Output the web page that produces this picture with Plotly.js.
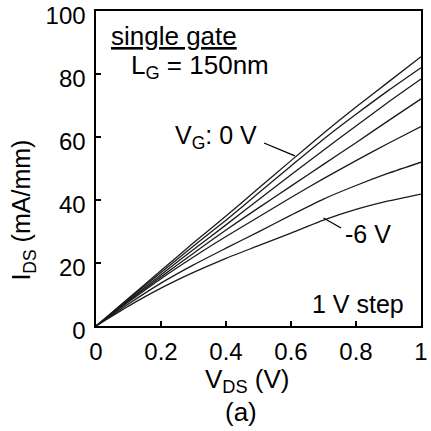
<!DOCTYPE html>
<html>
<head>
<meta charset="utf-8">
<script src="https://cdn.plot.ly/plotly-3.0.1.min.js"></script>
<style>html,body{margin:0;padding:0;background:#fff;}#chart{width:431px;height:431px;}</style>
</head>
<body>
<div id="chart"></div>
<script>
// Drain voltage samples (V)
const vds = [0, 0.1, 0.2, 0.3, 0.4, 0.5, 0.6, 0.7, 0.8, 0.9, 1.0];
// Gate voltages (V), 1 V step
const vgLabels = ["0 V", "-1 V", "-2 V", "-3 V", "-4 V", "-5 V", "-6 V"];
// Drain current IDS (mA/mm), one array per gate voltage
const ids_0  = [0, 8.8, 17.6, 26.4, 34.9, 43.7, 52.5, 61.2, 69.5, 77.5, 85.5];
const ids_m1 = [0, 8.5, 17.0, 25.4, 33.6, 42.2, 50.8, 59.3, 67.2, 74.8, 82.0];
const ids_m2 = [0, 8.2, 16.3, 24.3, 32.1, 40.1, 48.0, 55.8, 63.5, 71.1, 78.4];
const ids_m3 = [0, 7.9, 15.6, 23.1, 30.5, 37.5, 44.4, 51.3, 58.2, 65.2, 72.1];
const ids_m4 = [0, 7.6, 15.0, 21.9, 28.4, 34.6, 40.8, 46.8, 52.5, 58.0, 63.3];
const ids_m5 = [0, 7.0, 13.6, 19.4, 24.7, 29.9, 35.2, 40.3, 44.6, 48.5, 52.0];
const ids_m6 = [0, 6.3, 12.0, 17.0, 21.5, 25.5, 29.5, 33.6, 37.0, 39.7, 41.9];
const seriesList = [ids_0, ids_m1, ids_m2, ids_m3, ids_m4, ids_m5, ids_m6];

const FONT = "Liberation Sans, Arial, Helvetica, sans-serif";

const traces = seriesList.map((ys, i) => ({
  x: vds, y: ys, type: "scatter", mode: "lines", name: "VG = " + vgLabels[i],
  line: {color: "#1a1a1a", width: 1.3, shape: "spline", smoothing: 0.6},
  hoverinfo: "x+y+name", showlegend: false
}));

const layout = {
  width: 431, height: 431,
  margin: {l: 96, r: 10, t: 11, b: 105},
  paper_bgcolor: "#fff", plot_bgcolor: "#fff",
  font: {family: FONT, size: 24, color: "#000"},
  showlegend: false,
  xaxis: {
    range: [0, 1], dtick: 0.2, tick0: 0,
    ticks: "inside", ticklen: 5, tickwidth: 1.3, tickcolor: "#000",
    showline: true, linewidth: 1.6, linecolor: "#000", mirror: true,
    showgrid: false, zeroline: false,
    tickfont: {family: FONT, size: 24, color: "#000"},
    ticklabelstandoff: 4, ticklabeloverflow: "allow"
  },
  yaxis: {
    range: [0, 100], dtick: 20, tick0: 0,
    ticks: "inside", ticklen: 5, tickwidth: 1.3, tickcolor: "#000",
    showline: true, linewidth: 1.6, linecolor: "#000", mirror: true,
    showgrid: false, zeroline: false,
    tickfont: {family: FONT, size: 24, color: "#000"},
    ticklabelstandoff: 4, ticklabelshift: 5, ticklabeloverflow: "allow"
  },
  annotations: [
    {xref: "paper", yref: "paper", x: 0.467, y: -0.172, xanchor: "center", yanchor: "middle",
     text: "V<sub>DS</sub> (V)", showarrow: false, font: {family: FONT, size: 26}},
    {xref: "paper", yref: "paper", x: 0.446, y: -0.272, xanchor: "center", yanchor: "middle",
     text: "(a)", showarrow: false, font: {family: FONT, size: 26}},
    {xref: "paper", yref: "paper", x: -0.223, y: 0.368, xanchor: "center", yanchor: "middle",
     text: "I<sub>DS</sub> (mA/mm)", textangle: -90, showarrow: false, font: {family: FONT, size: 25}},
    {x: 0.04, y: 92.0, xanchor: "left", yanchor: "middle",
     text: "<u>single gate</u>", showarrow: false, font: {family: FONT, size: 26}},
    {x: 0.10, y: 82.3, xanchor: "left", yanchor: "middle",
     text: "L<sub>G</sub> = 150nm", showarrow: false, font: {family: FONT, size: 26}},
    {x: 0.237, y: 60.0, xanchor: "left", yanchor: "middle",
     text: "V<sub>G</sub>: 0 V", showarrow: false, font: {family: FONT, size: 25}},
    {x: 0.76, y: 29.2, xanchor: "left", yanchor: "middle",
     text: "-6 V", showarrow: false, font: {family: FONT, size: 25}},
    {x: 0.955, y: 7.0, xanchor: "right", yanchor: "middle",
     text: "1 V step", showarrow: false, font: {family: FONT, size: 25}}
  ],
  shapes: [
    {type: "line", x0: 0.517, y0: 58.1, x1: 0.612, y1: 54.0, line: {color: "#000", width: 1.3}},
    {type: "line", x0: 0.70, y0: 34.3, x1: 0.754, y1: 31.1, line: {color: "#000", width: 1.3}}
  ]
};

Plotly.newPlot("chart", traces, layout, {staticPlot: true, displayModeBar: false});
</script>
</body>
</html>
